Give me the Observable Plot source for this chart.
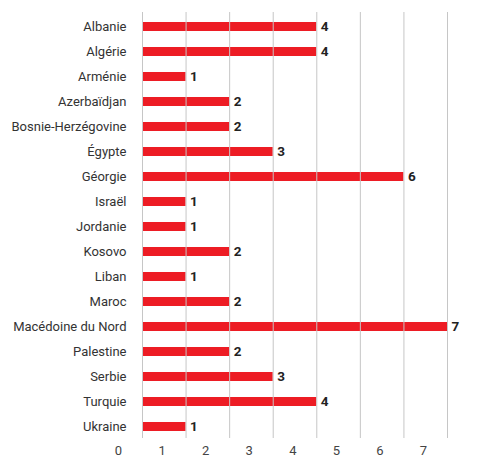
<!DOCTYPE html>
<html>
<head>
<meta charset="utf-8">
<script src="https://cdn.jsdelivr.net/npm/d3@7"></script>
<script src="https://cdn.jsdelivr.net/npm/@observablehq/plot@0.6"></script>
<style>
  html, body { margin: 0; padding: 0; background: #fff; }
  #chart svg { display: block; }
</style>
</head>
<body>
<div id="chart"></div>
<script>
const countries = ["Albanie", "Algérie", "Arménie", "Azerbaïdjan", "Bosnie-Herzégovine", "Égypte", "Géorgie", "Israël", "Jordanie", "Kosovo", "Liban", "Maroc", "Macédoine du Nord", "Palestine", "Serbie", "Turquie", "Ukraine"];
const values = [4, 4, 1, 2, 2, 3, 6, 1, 1, 2, 1, 2, 7, 2, 3, 4, 1];
const xTicks = [0, 1, 2, 3, 4, 5, 6, 7];

const data = countries.map((c, i) => ({country: c, value: values[i]}));

const chart = Plot.plot({
  width: 480,
  height: 457,
  marginLeft: 142,
  marginRight: 33,
  marginTop: 12,
  marginBottom: 19,
  style: {fontFamily: "Roboto, 'Open Sans', sans-serif", background: "#fff"},
  x: {domain: [0, 7], axis: null},
  y: {domain: countries, range: [12.7, 440.3], paddingInner: 0.64, paddingOuter: 0.32, label: null},
  marks: [
    Plot.barX(data, {x: "value", y: "country", fill: "#ED1C24"}),
    Plot.ruleX(xTicks, {stroke: "#c6c6c6", strokeWidth: 1}),
    Plot.text(data, {x: "value", y: "country", text: d => String(d.value), textAnchor: "start", dx: 4, fontWeight: "bold", fontSize: 13.5, fill: "#222"}),
    Plot.axisY({tickSize: 0, tickPadding: 16, fontSize: 13, color: "#333", label: null}),
    Plot.text(xTicks, {x: d => d, text: d => String(d), frameAnchor: "bottom", dy: 16, dx: -24, fontSize: 13, fill: "#444"})
  ]
});
document.getElementById("chart").append(chart);
</script>
</body>
</html>
